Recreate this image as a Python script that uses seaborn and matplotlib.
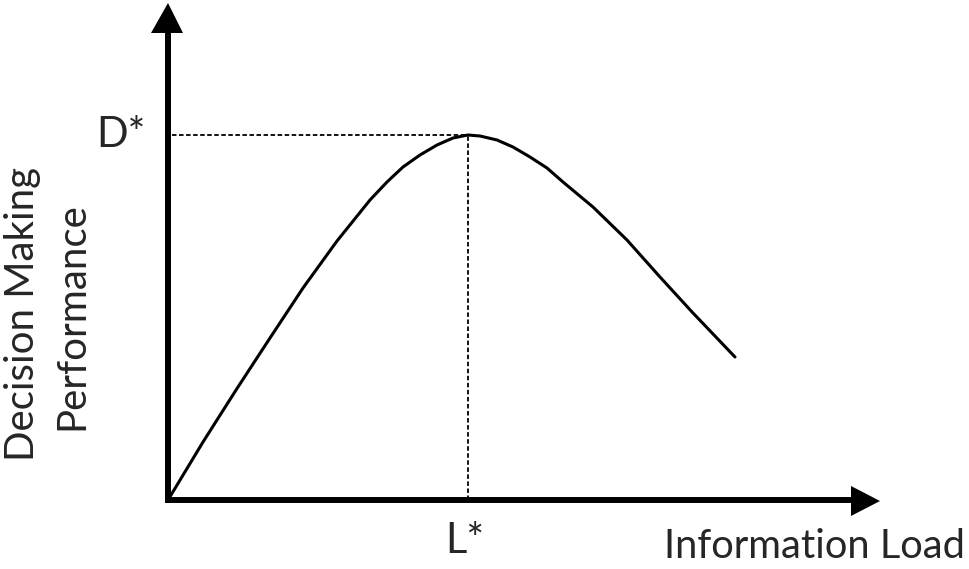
import matplotlib
matplotlib.use("Agg")
import matplotlib.pyplot as plt
import seaborn as sns
import pandas as pd

# Curve (x = information load, y = decision making performance)
load = [0, 35, 69, 102, 135, 169, 202, 219, 235, 252, 269, 285, 300,
        312, 329, 345, 362, 379, 395, 425, 459, 492, 525, 567]
performance = [0, 58, 111.5, 162, 212, 259, 300, 318, 333, 345, 355, 362, 365,
               364, 360, 353, 343, 332, 318, 293, 260, 223, 187, 143]
peak_load = 300
peak_perf = 365
x_label = "Information Load"
y_label_1 = "Decision Making"
y_label_2 = "Performance"
peak_x_label = "L*"
peak_y_label = "D*"

sns.set_theme(style="white")
plt.rcParams['font.family'] = ['Lato', 'DejaVu Sans']

fig = plt.figure(figsize=(9.69, 5.69), dpi=100)
ax = fig.add_axes([0, 0, 1, 1])
ax.set_xlim(-168, 801)
ax.set_ylim(-69, 500)
ax.axis('off')

df = pd.DataFrame({"load": load, "performance": performance})
sns.lineplot(data=df, x="load", y="performance", ax=ax, color="black", lw=2.2,
             sort=False, legend=False)
for line in ax.lines:
    line.set_solid_joinstyle("round")
    line.set_solid_capstyle("round")

# dashed guide lines
ax.plot([4, peak_load], [peak_perf, peak_perf], color="black", lw=1.3, ls=(0, (2.5, 1.4)))
ax.plot([peak_load, peak_load], [0, peak_perf], color="black", lw=1.3, ls=(0, (2.5, 1.4)))

# axes with arrows
ax.plot([0, 0], [-3, 470], color="black", lw=4.3, solid_capstyle="butt")
ax.plot([-3, 683], [0, 0], color="black", lw=4.3, solid_capstyle="butt")
ax.fill([-17, 15, 0], [467, 467, 497], color="black", lw=0)
ax.fill([683, 683, 712], [14, -16, -1], color="black", lw=0)

ax.text(-22, 365, peak_y_label, ha="right", va="center", fontsize=30)
ax.text(peak_load - 3, -41, peak_x_label, ha="center", va="center", fontsize=30)
ax.text(797, -58, x_label, ha="right", va="baseline", fontsize=28.7)
ax.text(-145, 186, y_label_1, ha="center", va="center", fontsize=29, rotation=90)
ax.text(-96, 184, y_label_2, ha="center", va="center", fontsize=29, rotation=90)

fig.savefig("out.png", dpi=100, facecolor="white")
